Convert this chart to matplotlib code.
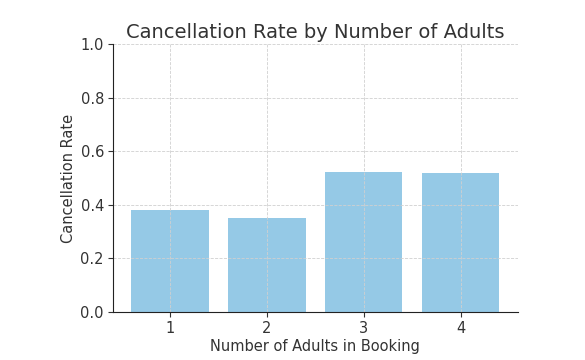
import matplotlib
matplotlib.use("Agg")
import matplotlib.pyplot as plt

adults = [1, 2, 3, 4]
cancel_rate = [0.381, 0.351, 0.522, 0.519]

TXT = "#333333"

fig = plt.figure(figsize=(5.85, 3.6), dpi=100)
ax = fig.add_axes([0.193, 0.133, 0.692, 0.745])

ax.bar(adults, cancel_rate, color="#95C9E6", width=0.8)
ax.set_ylim(0, 1.0)
ax.set_xticks(adults)
ax.grid(True, linestyle="--", color="#d0d0d0", linewidth=0.6)

for side in ("top", "right"):
    ax.spines[side].set_visible(False)
for side in ("left", "bottom"):
    ax.spines[side].set_color("#222222")

ax.tick_params(colors=TXT, labelsize=10.5, pad=3)
ax.set_title("Cancellation Rate by Number of Adults", color=TXT, fontsize=14, pad=4)
ax.set_xlabel("Number of Adults in Booking", color=TXT, fontsize=10.5, labelpad=2)
ax.set_ylabel("Cancellation Rate", color=TXT, fontsize=10.5, labelpad=3)

fig.savefig("out.png", dpi=100)
